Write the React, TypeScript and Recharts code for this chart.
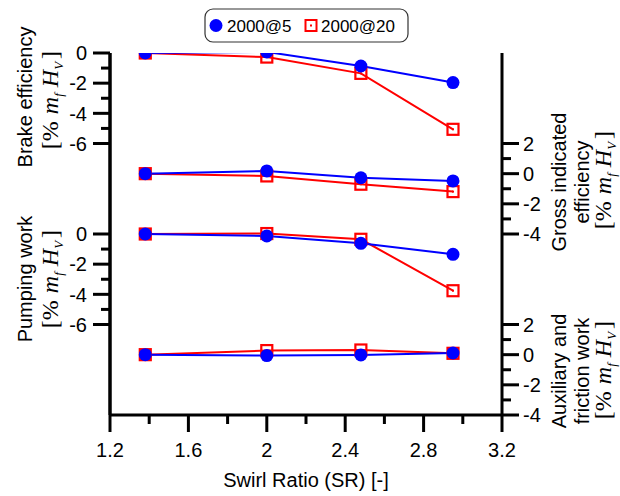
import React from 'react';
import { LineChart, Line, XAxis, YAxis, Legend, ReferenceLine } from 'recharts';

// ---------- data ----------
const swirlRatio = [1.38, 2.0, 2.48, 2.95];
const seriesNames = ['2000@5', '2000@20'];

const brake5 = [0, 0.07, -0.86, -1.96];
const brake20 = [0, -0.27, -1.35, -5.06];
const gross5 = [0, 0.18, -0.27, -0.48];
const gross20 = [0, -0.15, -0.7, -1.19];
const pump5 = [0, -0.13, -0.62, -1.35];
const pump20 = [0, 0.03, -0.35, -3.76];
const aux5 = [0, -0.06, -0.02, 0.11];
const aux20 = [0, 0.27, 0.31, 0.09];

const xTicks = [1.2, 1.4, 1.6, 1.8, 2.0, 2.2, 2.4, 2.6, 2.8, 3.0, 3.2];
const leftPanelTicks = [0, -1, -2, -3, -4, -5, -6];
const rightPanelTicks = [2, 1, 0, -1, -2, -3, -4];

// ---------- layout constants (stacked panels share one vertical span) ----------
const SPAN = 24;
const OFF_BRAKE = 0;
const OFF_GROSS = 8;
const OFF_PUMP = 12;
const OFF_AUX = 20;
const dom = (off: number) => [-(SPAN - off), off];

const data = swirlRatio.map((x, i) => ({
  x,
  brake5: brake5[i],
  brake20: brake20[i],
  gross5: gross5[i],
  gross20: gross20[i],
  pump5: pump5[i],
  pump20: pump20[i],
  aux5: aux5[i],
  aux20: aux20[i],
}));

const leftTicks = [
  ...leftPanelTicks.map((v) => v - OFF_BRAKE),
  ...leftPanelTicks.map((v) => v - OFF_PUMP),
];
const rightTicks = [
  ...rightPanelTicks,
  ...rightPanelTicks.map((v) => v - (OFF_AUX - OFF_GROSS)),
];

const SANS = '"Liberation Sans", Arial, sans-serif';
const SERIF = '"Liberation Serif", "Times New Roman", serif';
const BLUE = '#0000ff';
const RED = '#ff0000';
const TICK_FONT = 20;

const LeftTick = (props: any) => {
  const { x, y, payload } = props;
  const v = Math.round(payload.value);
  const label = v >= -6 ? v + OFF_BRAKE : v + OFF_PUMP;
  const major = label % 2 === 0;
  return (
    <g>
      <line x1={x - (major ? 17 : 9)} x2={x} y1={y} y2={y} stroke="#000" strokeWidth={3} />
      {major && (
        <text x={x - 23} y={y} dy="0.36em" textAnchor="end" fontSize={TICK_FONT} fontFamily={SANS} fill="#000">
          {label}
        </text>
      )}
    </g>
  );
};

const RightTick = (props: any) => {
  const { x, y, payload } = props;
  const v = Math.round(payload.value);
  const label = v >= -4 ? v : v + (OFF_AUX - OFF_GROSS);
  const major = label % 2 === 0;
  return (
    <g>
      <line x1={x} x2={x + (major ? 17 : 9)} y1={y} y2={y} stroke="#000" strokeWidth={3} />
      {major && (
        <text x={x + 21} y={y} dy="0.36em" textAnchor="start" fontSize={TICK_FONT} fontFamily={SANS} fill="#000">
          {label}
        </text>
      )}
    </g>
  );
};

const BottomTick = (props: any) => {
  const { x, y, payload, index } = props;
  const major = index % 2 === 0;
  const v = payload.value;
  const label = Math.abs(v - Math.round(v)) < 1e-6 ? String(Math.round(v)) : v.toFixed(1);
  return (
    <g>
      <line x1={x} x2={x} y1={y} y2={y + (major ? 17 : 9)} stroke="#000" strokeWidth={3} />
      {major && (
        <text x={x} y={y + 42} textAnchor="middle" fontSize={TICK_FONT} fontFamily={SANS} fill="#000">
          {label}
        </text>
      )}
    </g>
  );
};

const SquareDot = (props: any) => {
  const { cx, cy } = props;
  if (cx == null || cy == null) return null;
  return (
    <g>
      <rect x={cx - 5.5} y={cy - 5.5} width={11} height={11} fill="none" stroke={RED} strokeWidth={2.2} />
      <rect x={cx - 1} y={cy - 1} width={2} height={2} fill={RED} />
    </g>
  );
};

const LegendBox = () => (
  <svg width={206} height={36} style={{ display: 'block' }}>
    <rect x={1} y={1} width={203} height={33} rx={8} ry={8} fill="#fff" stroke="#333" strokeWidth={1.2} />
    <circle cx={12} cy={17.5} r={6.5} fill={BLUE} />
    <text x={23} y={24} fontSize={17} fontFamily={SANS} fill="#000">{seriesNames[0]}</text>
    <rect x={101.5} y={12} width={11} height={11} fill="none" stroke={RED} strokeWidth={2} />
    <rect x={106} y={16.5} width={2} height={2} fill={RED} />
    <text x={117} y={24} fontSize={17} fontFamily={SANS} fill="#000">{seriesNames[1]}</text>
  </svg>
);

const Unit = ({ x, y }: { x: number; y: number }) => (
  <text transform={`translate(${x},${y}) rotate(-90)`} textAnchor="middle" fontFamily={SERIF} fontSize={24} fill="#000">
    <tspan>[%</tspan>
    <tspan dx={7} fontStyle="italic">m</tspan>
    <tspan fontStyle="italic" fontSize={13} dy={5}>f</tspan>
    <tspan dx={6} dy={-5} fontStyle="italic">H</tspan>
    <tspan fontStyle="italic" fontSize={13} dy={5}>V</tspan>
    <tspan dx={3} dy={-5}>]</tspan>
  </text>
);

const Title = ({ x, y, children }: { x: number; y: number; children: React.ReactNode }) => (
  <text transform={`translate(${x},${y}) rotate(-90)`} textAnchor="middle" fontFamily={SANS} fontSize={20} fill="#000">
    {children}
  </text>
);

const axisStyle = { stroke: '#000', strokeWidth: 3 };

export default function App() {
  return (
    <div style={{ position: 'absolute', left: 0, top: 0, width: 620, height: 496, background: '#fff' }}>
      <LineChart
        width={620}
        height={496}
        data={data}
        margin={{ top: 53, left: 50, right: 58, bottom: 41 }}
      >
        <XAxis
          dataKey="x"
          type="number"
          domain={[1.2, 3.2]}
          ticks={xTicks}
          interval={0}
          tickSize={0}
          tickMargin={0}
          tickLine={false}
          height={40}
          allowDataOverflow
          axisLine={axisStyle}
          tick={<BottomTick />}
        />
        <YAxis
          yAxisId="brake"
          orientation="left"
          type="number"
          domain={dom(OFF_BRAKE)}
          ticks={leftTicks}
          interval={0}
          width={60}
          allowDataOverflow
          tickSize={0}
          tickMargin={0}
          tickLine={false}
          axisLine={axisStyle}
          tick={<LeftTick />}
        />
        <YAxis
          yAxisId="gross"
          orientation="right"
          type="number"
          domain={dom(OFF_GROSS)}
          ticks={rightTicks}
          interval={0}
          width={60}
          allowDataOverflow
          tickSize={0}
          tickMargin={0}
          tickLine={false}
          axisLine={axisStyle}
          tick={<RightTick />}
        />
        <YAxis yAxisId="pump" orientation="left" type="number" domain={dom(OFF_PUMP)} width={0} allowDataOverflow hide />
        <YAxis yAxisId="aux" orientation="right" type="number" domain={dom(OFF_AUX)} width={0} allowDataOverflow hide />

        <ReferenceLine yAxisId="brake" x={xTicks[0]} stroke="#000" strokeWidth={3} />

        <Legend
          layout="horizontal"
          verticalAlign="middle"
          align="center"
          content={<LegendBox />}
          wrapperStyle={{ position: 'absolute', top: 8, left: 204, width: 206, height: 36 }}
        />

        <Line yAxisId="brake" dataKey="brake20" name={seriesNames[1]} stroke={RED} strokeWidth={2} dot={<SquareDot />} isAnimationActive={false} />
        <Line yAxisId="gross" dataKey="gross20" name={seriesNames[1]} stroke={RED} strokeWidth={2} dot={<SquareDot />} isAnimationActive={false} legendType="none" />
        <Line yAxisId="pump" dataKey="pump20" name={seriesNames[1]} stroke={RED} strokeWidth={2} dot={<SquareDot />} isAnimationActive={false} legendType="none" />
        <Line yAxisId="aux" dataKey="aux20" name={seriesNames[1]} stroke={RED} strokeWidth={2} dot={<SquareDot />} isAnimationActive={false} legendType="none" />

        <Line yAxisId="brake" dataKey="brake5" name={seriesNames[0]} stroke={BLUE} strokeWidth={2} dot={{ r: 6.5, fill: BLUE, stroke: BLUE, strokeWidth: 0 }} isAnimationActive={false} />
        <Line yAxisId="gross" dataKey="gross5" name={seriesNames[0]} stroke={BLUE} strokeWidth={2} dot={{ r: 6.5, fill: BLUE, stroke: BLUE, strokeWidth: 0 }} isAnimationActive={false} legendType="none" />
        <Line yAxisId="pump" dataKey="pump5" name={seriesNames[0]} stroke={BLUE} strokeWidth={2} dot={{ r: 6.5, fill: BLUE, stroke: BLUE, strokeWidth: 0 }} isAnimationActive={false} legendType="none" />
        <Line yAxisId="aux" dataKey="aux5" name={seriesNames[0]} stroke={BLUE} strokeWidth={2} dot={{ r: 6.5, fill: BLUE, stroke: BLUE, strokeWidth: 0 }} isAnimationActive={false} legendType="none" />
      </LineChart>

      <svg width={620} height={496} style={{ position: 'absolute', left: 0, top: 0, pointerEvents: 'none' }}>
        <Title x={32} y={97}>Brake efficiency</Title>
        <Unit x={58} y={100} />
        <Title x={32} y={279}>Pumping work</Title>
        <Unit x={58} y={279} />
        <Title x={566} y={182}>Gross indicated</Title>
        <Title x={589} y={182}>efficiency</Title>
        <Unit x={611} y={180} />
        <Title x={566} y={371}>Auxiliary and</Title>
        <Title x={589} y={371}>friction work</Title>
        <Unit x={611} y={370} />
        <text x={306} y={487} textAnchor="middle" fontFamily={SANS} fontSize={20} fill="#000">
          Swirl Ratio (SR) [-]
        </text>
      </svg>
    </div>
  );
}
